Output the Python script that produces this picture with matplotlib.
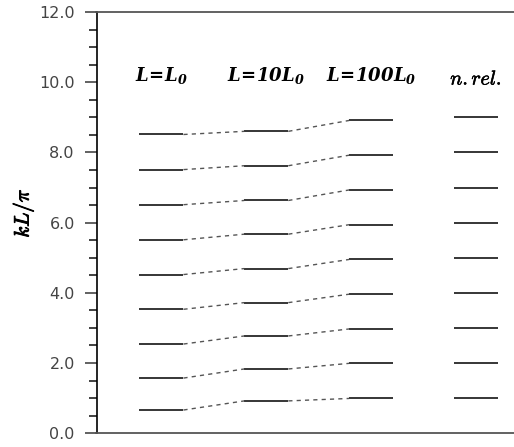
import numpy as np
import matplotlib
matplotlib.use("Agg")
import matplotlib.pyplot as plt
import matplotlib.patheffects as pe
from matplotlib.ticker import MultipleLocator

plt.rcParams['mathtext.fontset'] = 'custom'
plt.rcParams['mathtext.it'] = 'DejaVu Serif:italic:bold'
plt.rcParams['mathtext.rm'] = 'DejaVu Serif:italic:bold'
plt.rcParams['mathtext.bf'] = 'DejaVu Serif:italic:bold'

# energy levels kL/pi
labels = [r'$L\!=\!L_0$', r'$L\!=\!10L_0$', r'$L\!=\!100L_0$', r'$n.rel.$']
lev_L1 = [0.66, 1.57, 2.54, 3.53, 4.52, 5.51, 6.51, 7.51, 8.51]
lev_L10 = [0.92, 1.83, 2.77, 3.72, 4.69, 5.67, 6.63, 7.62, 8.60]
lev_L100 = [0.99, 1.99, 2.97, 3.96, 4.95, 5.94, 6.93, 7.92, 8.91]
lev_nrel = [1, 2, 3, 4, 5, 6, 7, 8, 9]
columns = [lev_L1, lev_L10, lev_L100, lev_nrel]

fig = plt.figure(figsize=(5.14, 4.47), dpi=100)
ax = fig.add_axes([96.5/514, 13.8/447, 1 - 96.5/514, 421.2/447])

hw = 0.21
for i, lev in enumerate(columns):
    for v in lev:
        ax.plot([i-hw, i+hw], [v, v], color='black', lw=1.1, solid_capstyle='butt')
    if i < 3:
        ax.text(i, 10.03, labels[i], ha='center', va='baseline', fontsize=13)
    else:
        ax.text(i, 9.93, labels[i], ha='center', va='baseline', fontsize=14.5,
                math_fontfamily='cm',
                path_effects=[pe.withStroke(linewidth=0.4, foreground='black')])

# dashed connectors between the three lengths
for i in range(2):
    a = np.array(columns[i])
    b = np.array(columns[i+1])
    for ya, yb in zip(a, b):
        ax.plot([i+hw, i+1-hw], [ya, yb], color='#555555', lw=1.0,
                linestyle=(0, (3, 3)))

ax.set_xlim(-0.619, 3.362)
ax.set_ylim(0, 12)
ax.yaxis.set_minor_locator(MultipleLocator(0.5))
ax.set_yticks(np.arange(0, 13, 2))
ax.set_yticklabels(['%.1f' % t for t in np.arange(0, 13, 2)])
ax.tick_params(axis='y', which='major', length=8.6, width=1.3, color='#555555',
               labelsize=11.5, labelcolor='#444444', pad=7)
ax.tick_params(axis='y', which='minor', length=5.8, width=1.3, color='#333333')
ax.set_xticks([])

ax.spines['right'].set_visible(False)
ax.spines['left'].set_color('black')
ax.spines['left'].set_linewidth(1.2)
ax.spines['top'].set_color('#555555')
ax.spines['top'].set_linewidth(1.3)
ax.spines['bottom'].set_color('#555555')
ax.spines['bottom'].set_linewidth(1.3)

fig.text(23/514, 1 - 213/447, r'$kL/\pi$', rotation=90, ha='center',
         va='center', fontsize=15, math_fontfamily='cm',
         path_effects=[pe.withStroke(linewidth=0.7, foreground='black')])

fig.savefig('out.png', dpi=100)
